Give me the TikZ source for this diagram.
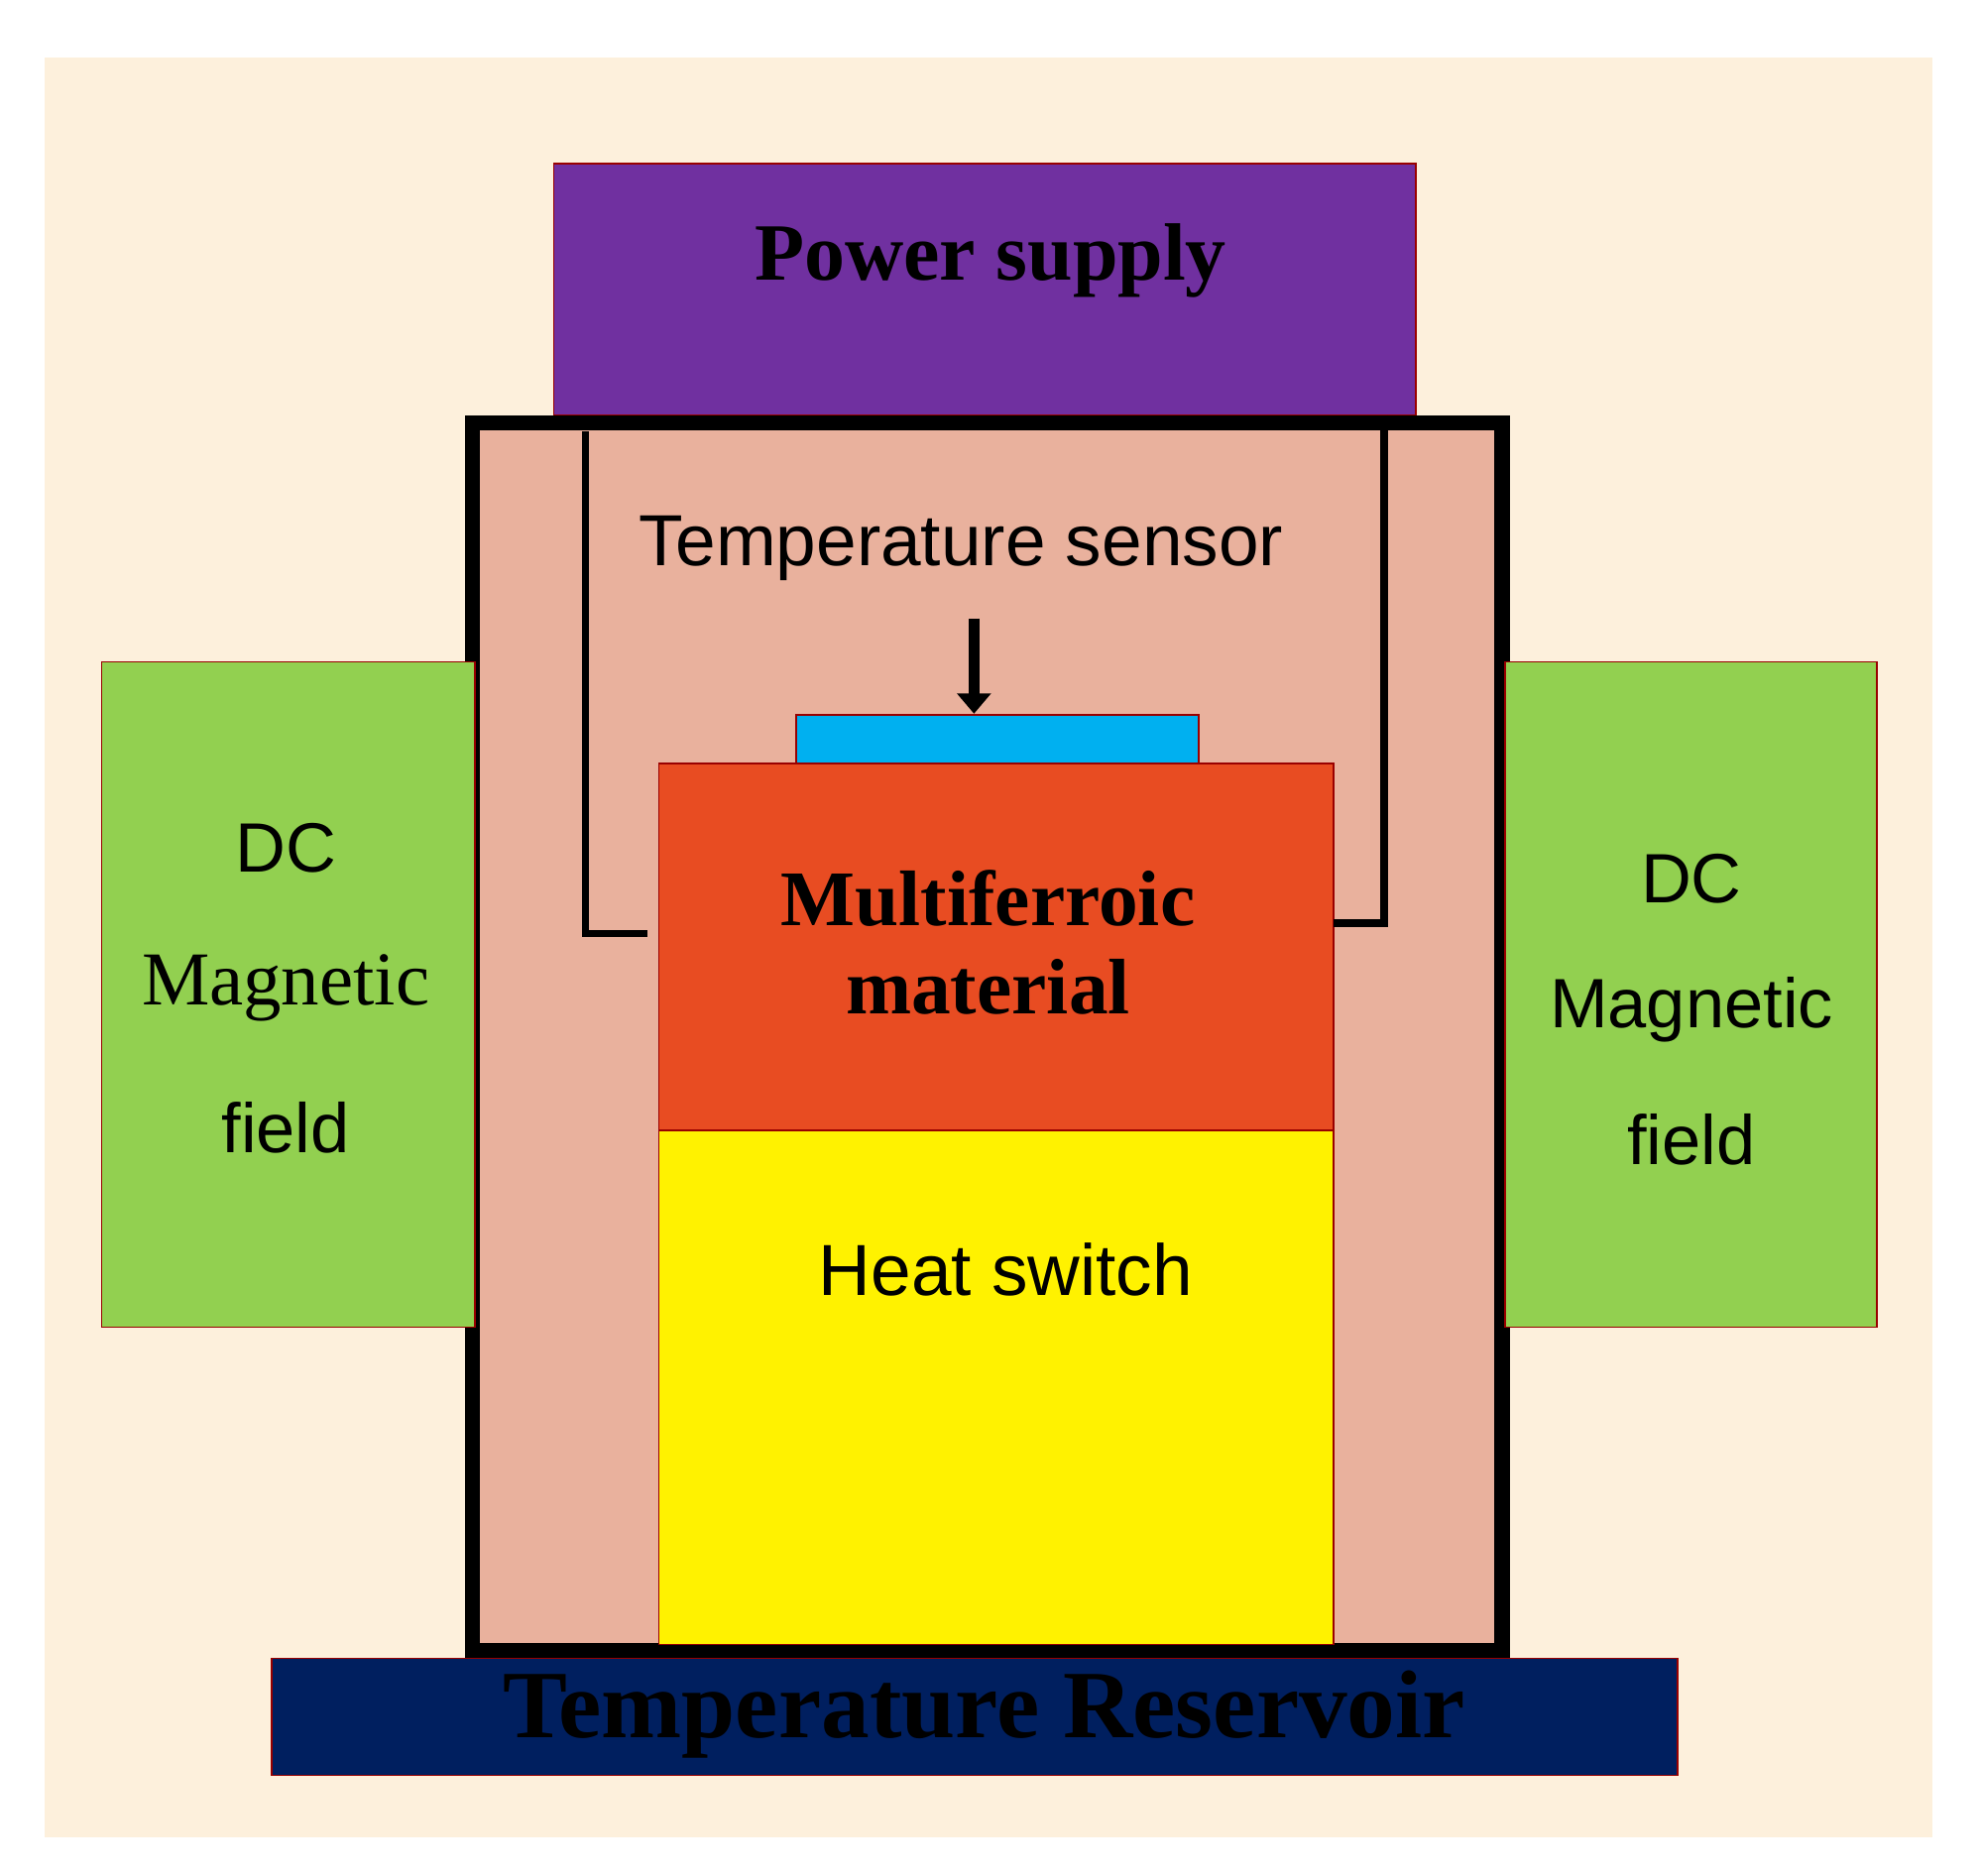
\documentclass[tikz,border=0pt]{standalone}
\usepackage{fontspec}
\setmainfont{Liberation Serif}
\newfontfamily\sansf{Liberation Sans}
\usetikzlibrary{arrows.meta}
\begin{document}
\begin{tikzpicture}[x=1pt,y=-1pt,
  box/.style={draw=red!60!black,line width=1.2pt},
  wire/.style={line width=6pt},
  st/.style={font=\sansf\fontsize{55}{60}\selectfont},
  bt/.style={font=\bfseries\fontsize{62}{70}\selectfont}]
\useasboundingbox (0,0) rectangle (1560,1477);
\fill[fill={rgb,255:red,253;green,240;blue,220}] (35,45) rectangle (1522,1447);
\filldraw[box,fill={rgb,255:red,112;green,48;blue,160}] (436,129) rectangle (1115,327);
\node[bt,font=\bfseries\fontsize{64}{70}\selectfont] (ps) at (780,205) {Power supply};
\filldraw[line width=12pt,fill={rgb,255:red,233;green,177;blue,157}] (372,333) rectangle (1183,1300);
\node[font=\sansf\fontsize{57}{60}\selectfont] (ts) at (757,432) {Temperature sensor};
\filldraw[box,fill={rgb,255:red,0;green,176;blue,240}] (627,563) rectangle (944,601);
\filldraw[box,fill={rgb,255:red,232;green,76;blue,34}] (519,601) rectangle (1050,890);
\filldraw[box,fill=yellow] (519,890) rectangle (1050,1295);
\node[bt,align=center] (mm) at (778,742) {Multiferroic\\material};
\node[font=\sansf\fontsize{57}{60}\selectfont] (hs) at (792,1000) {Heat switch};
\coordinate (a1) at (767,487); \coordinate (a2) at (767,562);
\draw[line width=9pt,-{Triangle[length=16pt,width=26pt]}] (a1) -- (a2);
\coordinate (l1) at (461,340); \coordinate (l2) at (461,735); \coordinate (l3) at (510,735);
\draw[wire] (l1) -- (l2) -- (l3);
\coordinate (r1) at (1090,327); \coordinate (r2) at (1090,727); \coordinate (r3) at (1050,727);
\draw[wire] (r1) -- (r2) -- (r3);
\filldraw[box,fill={rgb,255:red,146;green,208;blue,80}] (80,521) rectangle (374,1045);
\filldraw[box,fill={rgb,255:red,146;green,208;blue,80}] (1185,521) rectangle (1478,1045);
\node[st] (d1) at (225,668) {DC};
\node[font=\fontsize{60}{62}\selectfont] (m1) at (225,778) {Magnetic};
\node[st] (f1) at (225,888) {field};
\node[st] (d2) at (1332,692) {DC};
\node[st] (m2) at (1332,795) {Magnetic};
\node[st] (f2) at (1332,897) {field};
\filldraw[box,fill={rgb,255:red,0;green,31;blue,95}] (214,1306) rectangle (1321,1398);
\node[font=\bfseries\fontsize{76}{80}\selectfont] (tr) at (775,1350) {Temperature Reservoir};
\end{tikzpicture}
\end{document}
